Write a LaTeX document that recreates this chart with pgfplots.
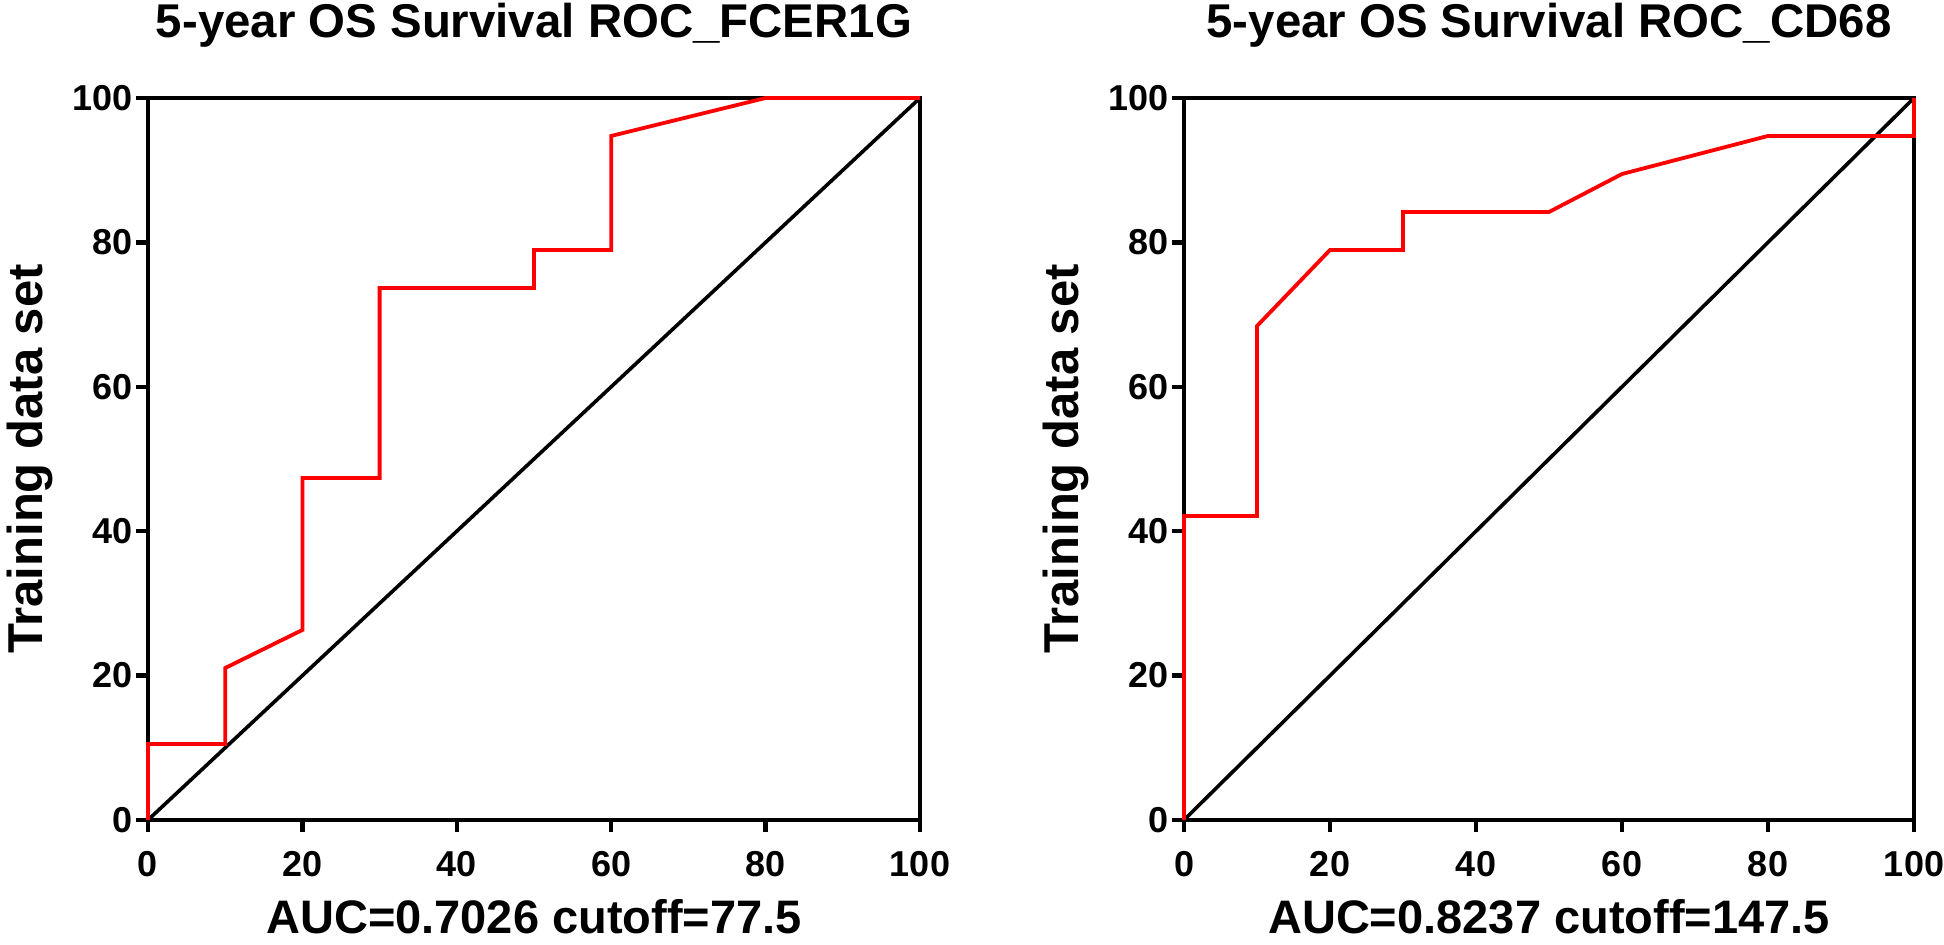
\documentclass[border=0pt]{standalone}
\usepackage{pgfplots}
\usepackage{pgfplotstable}
\pgfplotsset{compat=1.18}
\usepackage{fontspec}
\setmainfont{Liberation Sans}

\pgfplotstableread{
x y
0 0
0 10.53
10 10.53
10 21.05
20 26.32
20 47.37
30 47.37
30 73.68
50 73.68
50 78.95
60 78.95
60 94.74
80 100
100 100
}\fcer

\pgfplotstableread{
x y
0 0
0 42.11
10 42.11
10 68.42
20 78.95
30 78.95
30 84.21
50 84.21
60 89.47
80 94.74
100 94.74
100 100
}\cdsix

\pgfplotsset{rocstyle/.style={
  scale only axis, anchor=south west,
  height=361pt,
  xmin=0, xmax=100, ymin=0, ymax=100,
  xtick={0,20,...,100}, ytick={0,20,...,100},
  tick pos=left, tick align=outside, major tick length=6pt,
  major tick style={black, line width=2.2pt},
  axis line style={black, line width=2.2pt},
  /pgf/number format/assume math mode=true,
  tick label style={font=\fontsize{18}{18}\selectfont\bfseries},
  xticklabel style={yshift=-6pt},
  yticklabel style={inner sep=1.5pt},
  title style={font=\fontsize{23.7}{28}\selectfont\bfseries, at={(axis description cs:0.5,1.0665)}, anchor=base},
  xlabel style={font=\fontsize{23.5}{28}\selectfont\bfseries, at={(axis description cs:0.5,-0.157)}, anchor=base},
  ylabel style={font=\fontsize{24.5}{29}\selectfont\bfseries, anchor=base},
  clip=false,
}}

\begin{document}
\begin{tikzpicture}
\useasboundingbox (0,0) rectangle (972pt,472.5pt);
\begin{axis}[rocstyle, at={(74pt,62.5pt)}, width=386pt,
  title={5-year OS Survival ROC\_FCER1G},
  xlabel={AUC=0.7026 cutoff=77.5},
  ylabel={Training data set},
  ylabel style={at={(axis description cs:-0.1373,0.5)}}]
\addplot[black, line width=1.8pt] coordinates {(0,0) (100,100)};
\addplot[red, line width=1.9pt] table[x=x,y=y] {\fcer};
\end{axis}
\begin{axis}[rocstyle, at={(592pt,62.5pt)}, width=365pt,
  title={5-year OS Survival ROC\_CD68},
  xlabel={AUC=0.8237 cutoff=147.5},
  ylabel={Training data set},
  ylabel style={at={(axis description cs:-0.1452,0.5)}}]
\addplot[black, line width=1.8pt] coordinates {(0,0) (100,100)};
\addplot[red, line width=1.9pt] table[x=x,y=y] {\cdsix};
\end{axis}
\end{tikzpicture}
\end{document}
